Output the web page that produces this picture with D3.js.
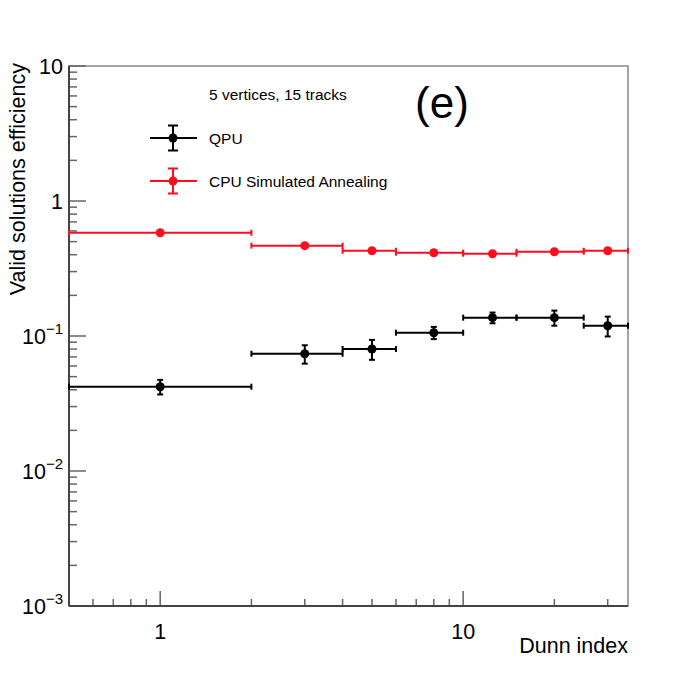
<!DOCTYPE html>
<html>
<head>
<meta charset="utf-8">
<script src="https://cdn.jsdelivr.net/npm/d3@7"></script>
<style>
html,body{margin:0;padding:0;background:#fff;}
text{font-family:"Liberation Sans",Arial,Helvetica,sans-serif;}
</style>
</head>
<body>
<svg id="chart" width="698" height="675"></svg>
<script>
const binEdges = [0.5, 2, 4, 6, 10, 15, 25, 35];
const binCenters = [1, 3, 5, 8, 12.5, 20, 30];
const qpuValues = [0.0421, 0.0739, 0.0801, 0.1058, 0.1367, 0.1367, 0.1192];
const qpuErrors = [0.0052, 0.0115, 0.0135, 0.011, 0.0125, 0.0175, 0.020];
const cpuValues = [0.582, 0.467, 0.428, 0.414, 0.407, 0.421, 0.428];
const cpuErrors = [0.006, 0.005, 0.005, 0.005, 0.005, 0.005, 0.005];
const xMajorTicks = [1, 10];
const xMinorTicks = [0.6, 0.7, 0.8, 0.9, 2, 3, 4, 5, 6, 7, 8, 9, 20, 30];
const yMajorTicks = [0.001, 0.01, 0.1, 1, 10];
const yTickLabels = [["10", "\u22123"], ["10", "\u22122"], ["10", "\u22121"], ["1", ""], ["10", ""]];
const seriesNames = ["QPU", "CPU Simulated Annealing"];
const seriesColors = ["#000000", "#ff0d1f"];

const svg = d3.select("#chart");
const L = 69, R = 628, T = 66, B = 606;
const x = d3.scaleLog().domain([0.5, 35]).range([L, R]);
const y = d3.scaleLog().domain([0.001, 10]).range([B, T]);

// frame
svg.append("rect").attr("x", L).attr("y", T).attr("width", R - L).attr("height", B - T)
  .attr("fill", "none").attr("stroke", "#888").attr("stroke-width", 1.5);

// y minor ticks
const yMinor = [];
for (let d = -3; d < 1; d++) for (let k = 2; k <= 9; k++) yMinor.push(k * Math.pow(10, d));
const tickColor = "#666";
svg.selectAll(".ymin").data(yMinor).enter().append("line")
  .attr("x1", L).attr("x2", L + 8).attr("y1", d => y(d)).attr("y2", d => y(d))
  .attr("stroke", tickColor).attr("stroke-width", 1.5);
svg.selectAll(".ymaj").data(yMajorTicks).enter().append("line")
  .attr("x1", L).attr("x2", L + 17).attr("y1", d => y(d)).attr("y2", d => y(d))
  .attr("stroke", tickColor).attr("stroke-width", 1.5);
// x ticks
svg.selectAll(".xmin").data(xMinorTicks).enter().append("line")
  .attr("x1", d => x(d)).attr("x2", d => x(d)).attr("y1", B).attr("y2", B - 7)
  .attr("stroke", tickColor).attr("stroke-width", 1.5);
svg.selectAll(".xmaj").data(xMajorTicks).enter().append("line")
  .attr("x1", d => x(d)).attr("x2", d => x(d)).attr("y1", B).attr("y2", B - 15)
  .attr("stroke", tickColor).attr("stroke-width", 1.5);

// axis lines
svg.append("line").attr("x1", L).attr("x2", L).attr("y1", T).attr("y2", B).attr("stroke", "#444").attr("stroke-width", 2);
svg.append("line").attr("x1", L).attr("x2", R).attr("y1", B).attr("y2", B).attr("stroke", "#444").attr("stroke-width", 2);

// y tick labels
yMajorTicks.forEach((v, i) => {
  const t = svg.append("text").attr("x", 63).attr("y", y(v) + 8)
    .attr("text-anchor", "end").attr("font-size", 21.5).attr("fill", "#000");
  t.append("tspan").text(yTickLabels[i][0]);
  if (yTickLabels[i][1]) {
    t.append("tspan").attr("font-size", 15).attr("dy", -10).text(yTickLabels[i][1]);
  }
});
// x tick labels
xMajorTicks.forEach(v => {
  svg.append("text").attr("x", x(v)).attr("y", 639).attr("text-anchor", "middle")
    .attr("font-size", 21.5).text(d3.format("d")(v));
});

// axis titles
svg.append("text").attr("x", R).attr("y", 653).attr("text-anchor", "end")
  .attr("font-size", 21.5).text("Dunn index");
svg.append("text").attr("transform", `translate(25,${T - 3}) rotate(-90)`)
  .attr("text-anchor", "end").attr("font-size", 21.5).text("Valid solutions efficiency");

// data
function drawSeries(vals, errs, color) {
  const g = svg.append("g");
  vals.forEach((v, i) => {
    const x0 = x(binEdges[i]), x1 = x(binEdges[i + 1]), xc = x(binCenters[i]), yc = y(v);
    g.append("line").attr("x1", x0).attr("x2", x1).attr("y1", yc).attr("y2", yc)
      .attr("stroke", color).attr("stroke-width", 2);
    [x0, x1].forEach(xx => g.append("line").attr("x1", xx).attr("x2", xx)
      .attr("y1", yc - 3).attr("y2", yc + 3).attr("stroke", color).attr("stroke-width", 2));
    const yt = y(v + errs[i]), yb = y(v - errs[i]);
    g.append("line").attr("x1", xc).attr("x2", xc).attr("y1", yt).attr("y2", yb)
      .attr("stroke", color).attr("stroke-width", 2);
    [yt, yb].forEach(yy => g.append("line").attr("x1", xc - 3).attr("x2", xc + 3)
      .attr("y1", yy).attr("y2", yy).attr("stroke", color).attr("stroke-width", 2));
    g.append("circle").attr("cx", xc).attr("cy", yc).attr("r", 4.5).attr("fill", color);
  });
}
drawSeries(cpuValues, cpuErrors, seriesColors[1]);
drawSeries(qpuValues, qpuErrors, seriesColors[0]);

// legend
svg.append("text").attr("x", 209).attr("y", 100).attr("font-size", 15.5).text("5 vertices, 15 tracks");
const legY = [138, 181];
seriesNames.forEach((name, i) => {
  const c = seriesColors[i], yy = legY[i], xc = 173;
  svg.append("line").attr("x1", 150).attr("x2", 197).attr("y1", yy).attr("y2", yy).attr("stroke", c).attr("stroke-width", 2);
  svg.append("line").attr("x1", xc).attr("x2", xc).attr("y1", yy - 12.5).attr("y2", yy + 12.5).attr("stroke", c).attr("stroke-width", 2);
  [yy - 12.5, yy + 12.5].forEach(v => svg.append("line").attr("x1", xc - 5).attr("x2", xc + 5)
    .attr("y1", v).attr("y2", v).attr("stroke", c).attr("stroke-width", 2));
  svg.append("circle").attr("cx", xc).attr("cy", yy).attr("r", 4.5).attr("fill", c);
  svg.append("text").attr("x", 209).attr("y", yy + 6).attr("font-size", 15.5).text(name);
});

svg.append("text").attr("x", 442).attr("y", 118).attr("text-anchor", "middle")
  .attr("font-size", 44).text("(e)");
</script>
</body>
</html>
